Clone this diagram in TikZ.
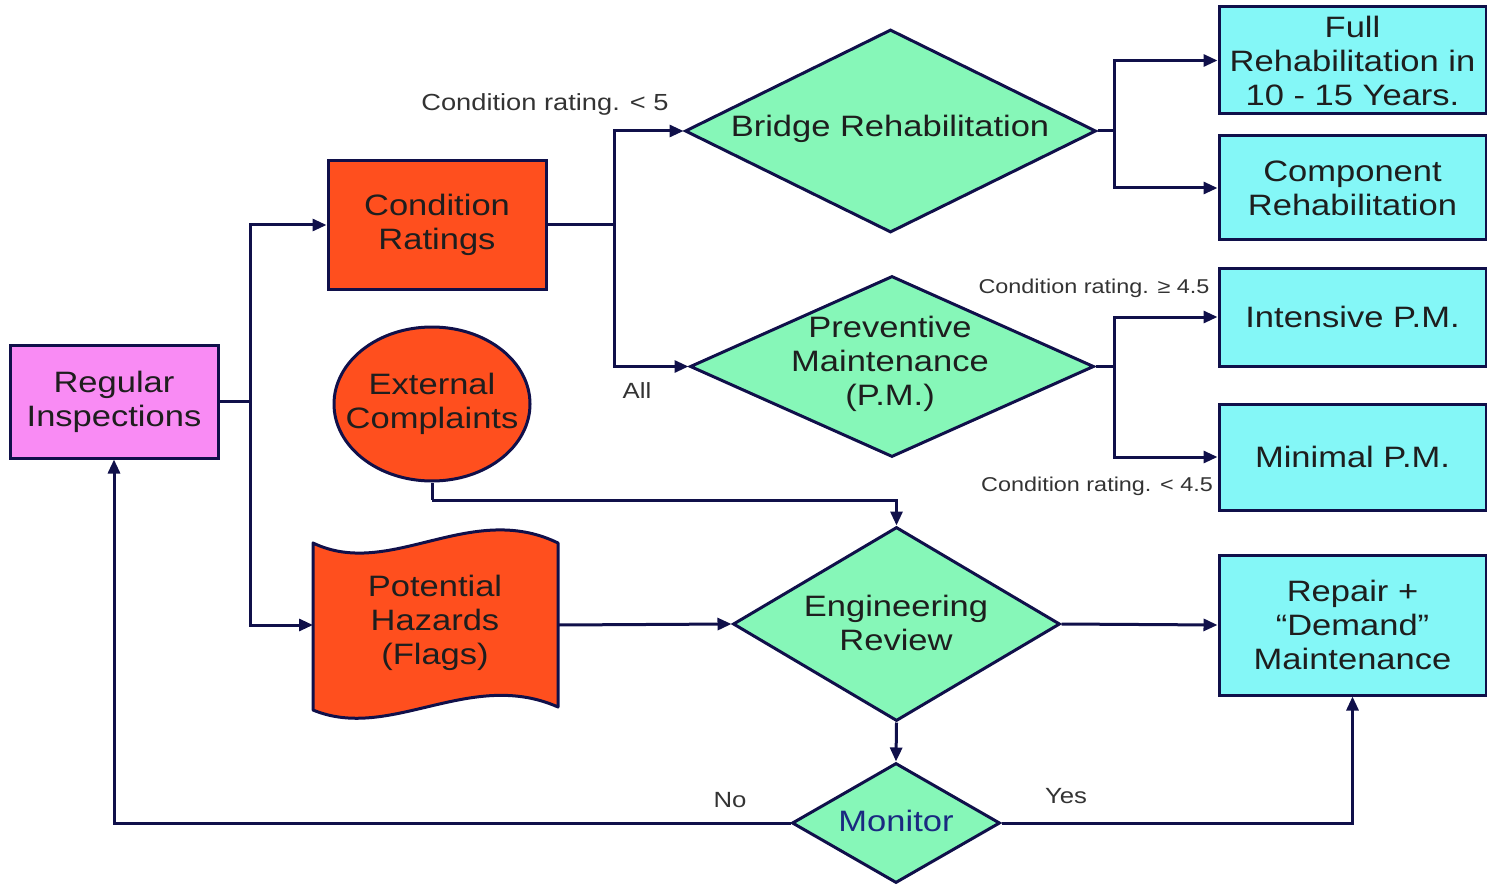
\documentclass[tikz,border=0pt]{standalone}
\usepackage{fontspec}
\setmainfont[FakeStretch=1.17]{Liberation Sans}
\usetikzlibrary{shapes.geometric,arrows.meta}
\definecolor{lc}{HTML}{10104A}
\definecolor{pinkf}{HTML}{F98BF4}
\definecolor{orangef}{HTML}{FF4F1E}
\definecolor{greenf}{HTML}{86F7B8}
\definecolor{cyanf}{HTML}{84F7F7}
\definecolor{txt}{HTML}{1E1E1E}
\definecolor{lbltxt}{HTML}{333333}
\definecolor{montxt}{HTML}{1A2A80}
\newcommand{\mainf}{\fontsize{29.5}{34}\selectfont}
\begin{document}
\begin{tikzpicture}[x=1pt,y=-1pt,
  box/.style={draw=lc, line width=3pt, inner sep=0pt, align=center, font=\mainf, text=txt},
  dia/.style={diamond, draw=lc, line width=3pt, inner sep=0pt, fill=greenf},
  ttext/.style={align=center, font=\mainf, text=txt, inner sep=0pt},
  ln/.style={draw=lc, line width=3pt},
  arr/.style={draw=lc, line width=3pt, -{Triangle[length=14pt,width=12pt]}},
  lblA/.style={font=\fontsize{23.3}{27}\selectfont, text=lbltxt, inner sep=0pt},
  lblB/.style={font=\fontsize{20}{24}\selectfont, text=lbltxt, inner sep=0pt},
  lblC/.style={font=\fontsize{22}{26}\selectfont, text=lbltxt, inner sep=0pt}]
\useasboundingbox (0,0) rectangle (1487,885);

% left boxes
\node[box, fill=pinkf, minimum width=208pt, minimum height=113pt] (ri) at (114,401.5) {Regular\\Inspections};
\node[box, fill=orangef, minimum width=218pt, minimum height=128pt] (cr) at (437,225) {Condition\\Ratings};
\node[ellipse, draw=lc, line width=3pt, fill=orangef, minimum width=196pt, minimum height=154pt, inner sep=0pt] (ec) at (432,404) {};
\node[ttext] (ect) at (432,404) {External\\Complaints};

% flag
\node[minimum width=245pt, minimum height=165pt, inner sep=0pt, outer sep=0pt] (ph) at (435.5,625) {};
\draw[draw=lc, line width=3pt, fill=orangef, line join=round]
  (313,543) .. controls (390,580) and (470,500) .. (558,543)
  -- (558,707) .. controls (470,668) and (390,742) .. (313,710) -- cycle;
\node[ttext] (pht) at (435,623) {Potential\\Hazards\\(Flags)};

% diamonds
\node[dia, minimum width=411pt, minimum height=203pt] (br) at (890.5,131) {};
\node[ttext] (brt) at (890,129) {Bridge Rehabilitation};
\node[dia, minimum width=404pt, minimum height=181pt] (pm) at (892,366.5) {};
\node[ttext] (pmt) at (890,364) {Preventive\\Maintenance\\(P.M.)};
\node[dia, minimum width=327pt, minimum height=194pt] (er) at (896.5,624) {};
\node[ttext] (ert) at (896,623) {Engineering\\Review};
\node[dia, minimum width=208pt, minimum height=120pt] (mo) at (896,823) {};
\node[ttext, text=montxt] (mot) at (896,821) {Monitor};

% right boxes
\node[box, fill=cyanf, minimum width=267pt, minimum height=107pt] (fr) at (1352.5,60.5) {Full\\Rehabilitation in\\10 - 15 Years.};
\node[box, fill=cyanf, minimum width=267pt, minimum height=104pt] (cp) at (1352.5,188) {Component\\Rehabilitation};
\node[box, fill=cyanf, minimum width=267pt, minimum height=98pt] (ip) at (1352.5,317) {Intensive P.M.};
\node[box, fill=cyanf, minimum width=267pt, minimum height=106pt] (mp) at (1352.5,457) {Minimal P.M.};
\node[box, fill=cyanf, minimum width=267pt, minimum height=140pt] (rp) at (1352.5,625) {Repair +\\“Demand”\\Maintenance};

% junctions
\coordinate (j0) at (250,401.5);
\coordinate (j1) at (614,225);
\coordinate (j2) at (1114,131);
\coordinate (j3) at (1114,366.5);
\coordinate (j4) at (432,500);

% connectors
\draw[ln] (ri.east) -- (j0);
\draw[arr] (j0) |- (cr.west);
\draw[arr] (j0) |- (ph.west);
\draw[ln] (cr.east) -- (j1);
\draw[arr] (j1) |- (br.west);
\draw[arr] (j1) |- (pm.west);
\draw[ln] (br.east) -- (j2);
\draw[arr] (j2) |- (fr.west);
\draw[arr] (j2) |- (cp.west);
\draw[ln] (pm.east) -- (j3);
\draw[arr] (j3) |- (ip.west);
\draw[arr] (j3) |- (mp.west);
\draw[ln] (ec.south) -- (j4);
\draw[arr] (j4) -| (er.north);
\draw[arr] (ph.east) -- (er.west);
\draw[arr] (er.east) -- (rp.west);
\draw[arr] (er.south) -- (mo.north);
\draw[arr] (mo.west) -| (ri.south);
\draw[arr] (mo.east) -| (rp.south);

% labels
\node[lblA] (l1) at (545,104) {Condition rating. < 5};
\node[lblB] (l2) at (1094,288) {Condition rating. ≥ 4.5};
\node[lblB] (l3) at (1097,486) {Condition rating. < 4.5};
\node[lblC] (l4) at (637,391) {All};
\node[lblC] (l5) at (730,800) {No};
\node[lblC] (l6) at (1066,796) {Yes};
\end{tikzpicture}
\end{document}
